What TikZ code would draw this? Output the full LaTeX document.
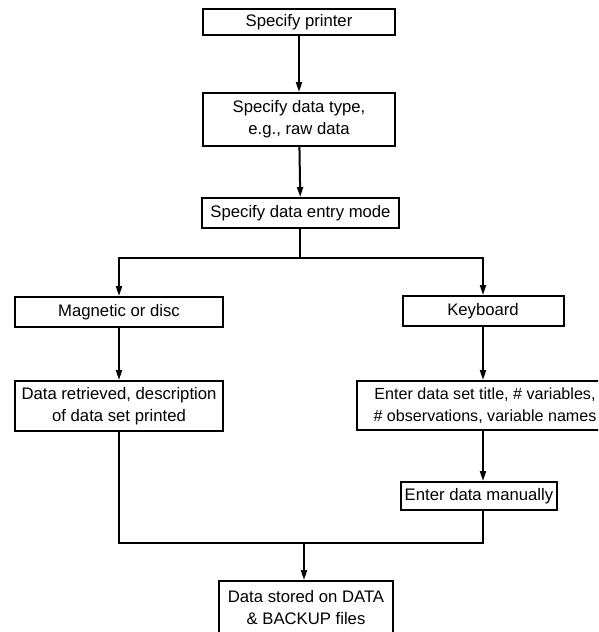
\documentclass[tikz,border=0pt]{standalone}
\usepackage{fontspec}
\setmainfont{Liberation Sans}
\usetikzlibrary{arrows.meta}
\begin{document}
\begin{tikzpicture}[x=1pt,y=-1pt,
  box/.style={draw, line width=2pt, inner sep=0pt, align=center,
    font=\fontsize{16.7}{22}\selectfont},
  conn/.style={line width=2pt},
  arr/.style={conn, -{Triangle[length=10pt,width=6pt]}}]
\useasboundingbox (0,0) rectangle (598,632);
\clip (0,0) rectangle (598,632);
\node[box, minimum width=192pt, minimum height=26pt] (p1) at (299,22) {Specify printer};
\node[box, minimum width=192pt, minimum height=53pt] (p2) at (299,119.5) {Specify data type,\\e.g., raw data};
\node[box, minimum width=197pt, minimum height=30pt] (p3) at (300.5,213) {Specify data entry mode};
\node[box, minimum width=208pt, minimum height=30pt] (mag) at (119,312) {Magnetic or disc};
\node[box, minimum width=208pt, minimum height=50pt] (ret) at (119,406) {Data retrieved, description\\of data set printed};
\node[box, minimum width=161pt, minimum height=30pt] (key) at (483,311) {Keyboard};
\node[box, minimum width=256pt, minimum height=49pt, font=\fontsize{16.1}{22}\selectfont] (ent) at (485,405.5) {Enter data set title, \# variables,\\\# observations, variable names\hspace{6pt}};
\node[box, minimum width=156pt, minimum height=28pt] (man) at (479,496) {Enter data manually};
\node[box, minimum width=174pt, minimum height=54pt] (bot) at (306,608) {Data stored on DATA\\\& BACKUP files};
\coordinate (br) at (300,258);
\coordinate (j) at (304,543);
\coordinate (ax) at (483,0);
\draw[arr] (p1) -- (p2);
\draw[arr] (p2) -- (p3);
\draw[conn] (p3.south -| br) -- (br);
\draw[arr] (br) -| (mag.north);
\draw[arr] (br) -| (key.north);
\draw[arr] (mag) -- (ret);
\draw[arr] (key) -- (key |- ent.north);
\draw[arr] (ax |- ent.south) -- (ax |- man.north);
\draw[conn] (ret.south) |- (j) -| (ax |- man.south);
\draw[arr] (j) -- (j |- bot.north);
\end{tikzpicture}
\end{document}
